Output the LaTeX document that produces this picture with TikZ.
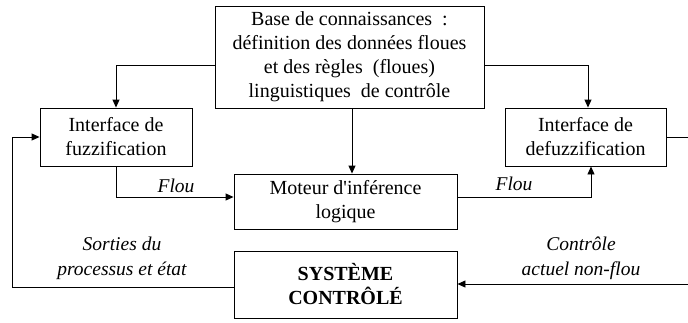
\documentclass[tikz,border=0pt]{standalone}
\usepackage{fontspec}
\setmainfont{Liberation Serif}
\newfontfamily\plainserif{Liberation Serif}
\usepackage{tikz}
\usetikzlibrary{arrows.meta, positioning, calc}

\begin{document}
\begin{tikzpicture}[
    x=1pt, y=-1pt,
    block/.style={draw, line width=0.9pt, inner sep=0pt, align=center, font=\fontsize{20}{24}\selectfont},
    label/.style={font=\fontsize{19.5}{25}\selectfont\itshape, align=center},
    arr/.style={line width=0.9pt, -{Triangle[length=8pt, width=7pt]}},
    wire/.style={line width=0.9pt}
]
    \useasboundingbox (0,0) rectangle (688,322);

    % Blocks
    \node[block, minimum width=269pt, minimum height=102pt] (base) at (349.5,57) {
        Base de connaissances\ \ :\\
        définition des données floues\\
        et des règles\ \ (floues)\\
        linguistiques\ \ de contrôle
    };
    \node[block, minimum width=152pt, minimum height=58pt] (fuzz) at (116,137) {
        Interface de\\
        fuzzification
    };
    \node[block, minimum width=161pt, minimum height=58pt] (defuzz) at (585.5,137) {
        Interface de\\
        defuzzification
    };
    \node[block, minimum width=223pt, minimum height=55pt] (moteur) at (345.5,201.5) {
        Moteur d{\plainserif '}inférence\\
        logique
    };
    \node[block, minimum width=223pt, minimum height=67pt] (systeme) at (345.5,284.5) {
        \textbf{SYSTÈME}\\
        \textbf{CONTRÔLÉ}
    };

    % Free ends at the right border
    \coordinate (sortie) at (688,137);
    \coordinate (commande) at (688,284);
    \coordinate (retour) at (12,287);

    % Relationships
    \draw[arr] (base.west |- 0,65) -| (fuzz.north);
    \draw[arr] (base.east |- 0,65) -| (defuzz.north -| 588,0);
    \draw[arr] (base.south -| 352,0) -- (moteur.north -| 352,0);
    \draw[arr] (fuzz.south) |- (moteur.west |- 0,197);
    \draw[arr] (moteur.east |- 0,197) -| (defuzz.south -| 591,0);
    \draw[wire] (defuzz.east) -- (sortie);
    \draw[arr] (commande) -- (systeme.east |- commande);
    \draw[arr] (systeme.west |- retour) -- (retour) |- (fuzz.west);

    % Labels
    \node[label] (flou1) at (176,186) {Flou};
    \node[label] (flou2) at (514,184) {Flou};
    \node[label] (sorties) at (122,258) {Sorties du\\processus et état};
    \node[label] (controle) at (581,258) {Contrôle\\actuel non-flou};

\end{tikzpicture}
\end{document}
